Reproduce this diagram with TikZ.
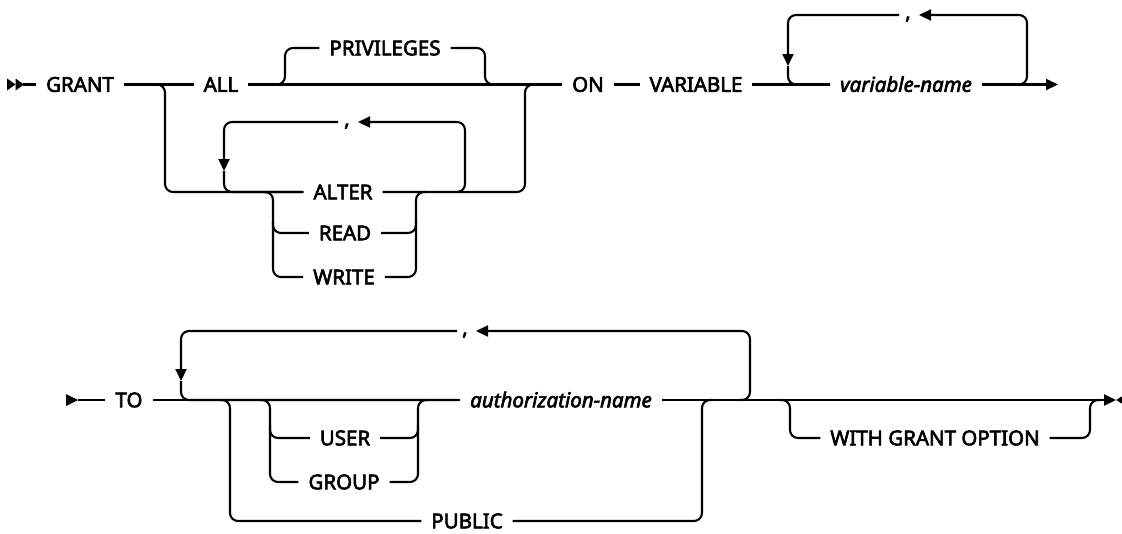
\documentclass[tikz,border=0pt]{standalone}
\usepackage{fontspec}
\setmainfont{Noto Sans}
\usetikzlibrary{arrows.meta}
\newcommand\heavyon{\special{pdf:literal direct 2 Tr 0.6 w}}
\newcommand\heavyoff{\special{pdf:literal direct 0 Tr}}
\begin{document}
\begin{tikzpicture}[x=1pt,y=-1pt,
  line width=2.1pt,
  rail/.style={rounded corners=8pt},
  heavy/.style={execute at begin node=\heavyon, execute at end node=\heavyoff},
  kw/.style={heavy, font=\fontsize{20.5}{24}\selectfont, inner xsep=9pt, inner ysep=0pt, text height=14.6pt, text depth=0pt},
  vname/.style={kw, font=\fontsize{20.5}{24}\selectfont\itshape},
  commasty/.style={heavy, font=\fontsize{20.5}{24}\selectfont, inner sep=0pt, anchor=base},
  arr/.style={-{Triangle[length=12pt,width=11pt]}}
]
\useasboundingbox (0,0) rectangle (1122,533);

% ---------------- Row 1 ----------------
\node[kw] (grant) at (80,84.5) {GRANT};
\node[kw] (all) at (221,84.5) {ALL};
\node[kw] (priv) at (385,48) {PRIVILEGES};
\node[kw] (alter) at (343,192) {ALTER};
\node[kw] (read) at (345,233) {READ};
\node[kw] (write) at (344,277) {WRITE};
\node[kw] (on) at (588,84.5) {ON};
\node[kw] (variable) at (696,84.5) {VARIABLE};
\node[vname] (varname) at (906,84.5) {variable-name};
\node[commasty] (c1) at (347,126) {,};
\node[commasty] (c2) at (908,19) {,};

\coordinate (s1) at (23,84.5);
\coordinate (b1) at (155,84.5); \coordinate (b1d) at (165,192);
\coordinate (p1) at (275,84.5); \coordinate (p1u) at (285,48);
\coordinate (p2d) at (485,84.5); \coordinate (p2) at (495,84.5);
\coordinate (m1u) at (525,84.5); \coordinate (m1) at (535,84.5);
\coordinate (l1a) at (455,192); \coordinate (l1t) at (465,122);
\coordinate (c1r) at (358,122); \coordinate (c1l) at (338,122);
\coordinate (l1d) at (224,171);
\coordinate (g1) at (263,192); \coordinate (g1d) at (273,277); \coordinate (g1r) at (273,222);
\coordinate (g2d) at (416,192); \coordinate (g2) at (426,192); \coordinate (g2r) at (416,222);
\coordinate (c2l) at (899,15); \coordinate (c2r) at (919,15);
\coordinate (l2d) at (788,66);
\coordinate (v1) at (1017,84.5); \coordinate (v1t) at (1027,15);
\coordinate (e1) at (1058,84.5);

\fill (7,78.5) -- (15.5,84.5) -- (7,90.5) -- cycle;
\fill (15.5,78.5) -- (24,84.5) -- (15.5,90.5) -- cycle;
\draw (s1) -- (grant.west);
\draw (grant.east) -- (all.west);
\draw (all.east) -- (on.west);
\draw[rail] (p1) -| (p1u) -- (priv.west);
\draw[rail] (priv.east) -| (p2d) -- (p2);
\draw[rail] (b1) -| (b1d) -- (alter.west);
\draw[rail] (alter.east) -| (m1u) -- (m1);
\draw[rail,arr] (l1a) -| (l1t) -- (c1r);
\draw[rail,arr] (c1l) -| (l1d);
\draw[rail] (l1d) |- (alter.west);
\draw[rail] (g1) -| (g1d) -- (write.west);
\draw[rail] (g1r) |- (read.west);
\draw[rail] (write.east) -| (g2d) -- (g2);
\draw[rail] (read.east) -| (g2r);
\draw (on.east) -- (variable.west);
\draw (variable.east) -- (varname.west);
\draw[rail,arr] (c2l) -| (l2d);
\draw[rail] (l2d) |- (varname.west);
\draw[rail,arr] (v1) -| (v1t) -- (c2r);
\draw[arr] (varname.east) -- (e1);

% ---------------- Row 2 ----------------
\node[kw] (to) at (129,400) {TO};
\node[kw] (user) at (345,438) {USER};
\node[kw] (group) at (344,482) {GROUP};
\node[kw] (public) at (467,521) {PUBLIC};
\node[vname] (auth) at (561,400) {authorization-name};
\node[kw] (wgo) at (935,438) {WITH GRANT OPTION};
\node[commasty] (c3) at (465,335) {,};

\coordinate (s2) at (78,400);
\coordinate (c3l) at (457,331); \coordinate (c3r) at (476,331);
\coordinate (l3d) at (181,381);
\coordinate (a1) at (740,400); \coordinate (a1t) at (750,331);
\coordinate (u0) at (260,400); \coordinate (u0d) at (270,482); \coordinate (u0r) at (270,425);
\coordinate (u2d) at (418,400); \coordinate (u2) at (428,400); \coordinate (u2r) at (418,425);
\coordinate (q0) at (220,400); \coordinate (q0d) at (230,521);
\coordinate (q2d) at (702,400); \coordinate (q2) at (712,400);
\coordinate (w0) at (780,400); \coordinate (w0d) at (790,438);
\coordinate (w2d) at (1090,400); \coordinate (w2) at (1100,400);
\coordinate (e2) at (1116,400);

\fill (66,394) -- (78,400) -- (66,406) -- cycle;
\draw (s2) -- (to.west);
\draw (to.east) -- (auth.west);
\draw[rail,arr] (c3l) -| (l3d);
\draw[rail] (l3d) |- (auth.west);
\draw[rail,arr] (a1) -| (a1t) -- (c3r);
\draw[rail] (u0) -| (u0d) -- (group.west);
\draw[rail] (u0r) |- (user.west);
\draw[rail] (group.east) -| (u2d) -- (u2);
\draw[rail] (user.east) -| (u2r);
\draw[rail] (q0) -| (q0d) -- (public.west);
\draw[rail] (public.east) -| (q2d) -- (q2);
\draw[rail] (w0) -| (w0d) -- (wgo.west);
\draw[rail] (wgo.east) -| (w2d) -- (w2);
\draw[arr] (auth.east) -- (e2);
\fill (e2) -- (1126,394) -- (1126,406) -- cycle;
\end{tikzpicture}
\end{document}
